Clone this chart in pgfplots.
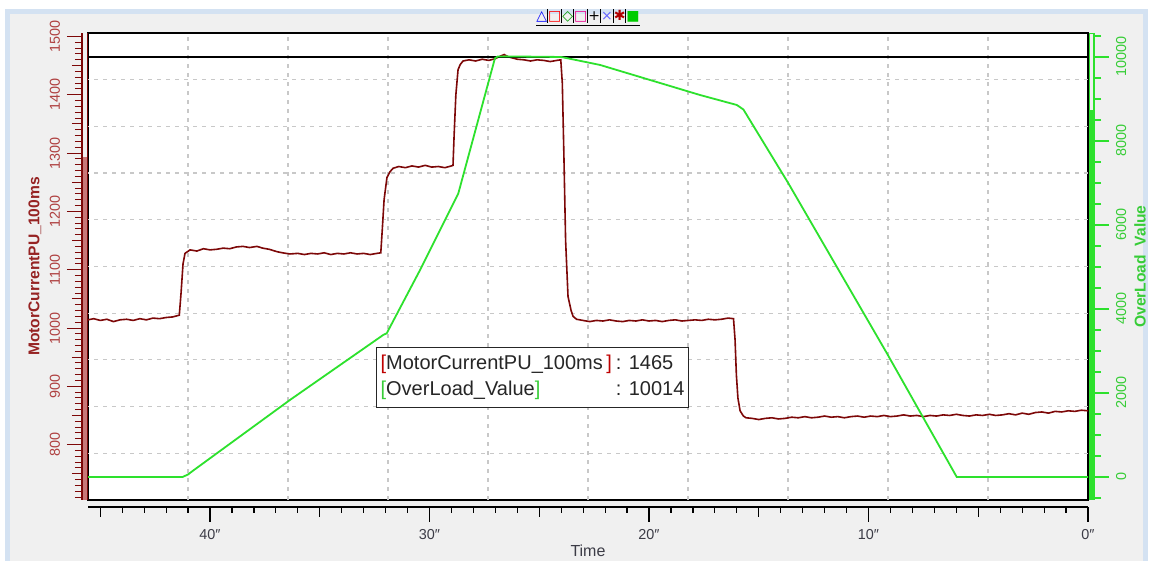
\documentclass[border=0pt]{standalone}
\usepackage{pgfplots}
\pgfplotsset{compat=1.18}
\usepackage{fontspec}
\setmainfont{Liberation Sans}
\newfontfamily\symf{DejaVu Sans}
\definecolor{curred}{RGB}{125,8,8}
\definecolor{labred}{RGB}{150,35,35}
\definecolor{tickred}{RGB}{175,65,65}
\definecolor{stripred}{RGB}{200,120,120}
\definecolor{ovgreen}{RGB}{45,225,45}
\definecolor{labgreen}{RGB}{55,205,55}
\definecolor{bggray}{RGB}{240,240,240}
\definecolor{frameblue}{RGB}{212,226,242}
\definecolor{gridgray}{RGB}{200,200,200}
\definecolor{ticktext}{RGB}{60,60,70}

\pgfplotsset{
  /pgf/number format/assume math mode=true,
  /pgf/number format/1000 sep={},
  base/.style={
    anchor=south west, width=500pt, height=233.5pt, scale only axis,
    xmin=0, xmax=45.56, x dir=reverse,
    scaled y ticks=false, scaled x ticks=false,
    tick label style={font=\fontsize{7.2}{8}\selectfont},
  },
}

\pgfplotstableread{
t v
45.56 1014
45.3 1016
45.0 1013
44.7 1015
44.4 1011
44.1 1014
43.8 1015
43.5 1013
43.2 1016
42.9 1014
42.6 1017
42.3 1016
42.0 1018
41.7 1019
41.5 1021
41.40 1022
41.32 1060
41.23 1110
41.14 1128
40.91 1134
40.6 1132
40.3 1136
40.0 1134
39.7 1135
39.4 1137
39.1 1136
38.8 1139
38.5 1140
38.2 1138
37.86 1140
37.6 1137
37.3 1135
36.96 1131
36.7 1129
36.36 1127
36.0 1128
35.7 1126
35.4 1128
35.1 1127
34.8 1129
34.5 1126
34.2 1128
33.9 1127
33.6 1129
33.3 1127
33.0 1128
32.7 1126
32.4 1128
32.22 1129
32.15 1170
32.07 1220
31.94 1258
31.8 1268
31.66 1274
31.4 1277
31.1 1275
30.8 1278
30.5 1276
30.2 1279
29.9 1276
29.6 1277
29.3 1275
29.0 1278
28.93 1279
28.88 1330
28.80 1400
28.70 1443
28.6 1452
28.47 1458
28.2 1460
27.9 1458
27.6 1461
27.3 1459
27.0 1462
26.79 1466
26.6 1469
26.4 1465
26.2 1463
26.0 1461
25.7 1460
25.4 1458
25.1 1460
24.8 1459
24.5 1457
24.2 1459
24.02 1460
23.95 1420
23.88 1300
23.80 1150
23.69 1054
23.55 1030
23.46 1020
23.3 1015
23.01 1013
22.7 1011
22.4 1013
22.1 1012
21.8 1014
21.5 1012
21.2 1011
20.9 1013
20.6 1012
20.3 1014
20.0 1012
19.7 1013
19.4 1011
19.1 1013
18.8 1014
18.5 1012
18.2 1013
17.9 1014
17.6 1013
17.3 1015
17.0 1014
16.7 1015
16.4 1017
16.15 1016
16.08 980
16.02 920
15.95 880
15.85 858
15.7 849
15.58 846
15.3 845
15.0 843
14.7 845
14.4 846
14.1 844
13.8 845
13.5 847
13.2 846
12.9 848
12.6 846
12.3 847
12.0 849
11.7 847
11.4 848
11.1 846
10.8 848
10.5 849
10.2 847
9.9 849
9.6 848
9.3 850
9.0 848
8.7 849
8.4 851
8.1 849
7.8 850
7.5 848
7.2 850
6.9 849
6.6 851
6.3 850
6.0 852
5.7 850
5.4 849
5.1 851
4.8 850
4.5 852
4.2 850
3.9 851
3.6 853
3.3 851
3.0 854
2.7 852
2.4 855
2.1 856
1.8 854
1.5 857
1.2 856
0.9 858
0.6 857
0.3 859
0.0 858
}\currenttable

\pgfplotstableread{
t v
45.56 0
41.25 0
41.0 60
40.8 140
36.36 1833
32.11 3381
31.95 3421
30.43 4929
29.67 5722
28.69 6748
27.02 9968
26.9 10010
26.5 10014
24.0 10000
22.23 9810
17.68 9095
16.00 8857
15.70 8750
13.66 7000
11.60 5143
9.17 2952
5.98 0
0 0
}\overloadtable

\begin{document}
\begin{tikzpicture}
\useasboundingbox (-44pt,-30.5pt) rectangle (531.5pt,250pt);
\fill[white] (-44pt,-30.5pt) rectangle (531.5pt,250pt);
\fill[bggray] (-41pt,-30.5pt) rectangle (529.5pt,245pt);
\draw[frameblue, line width=2.5pt] (-40pt,-30.5pt) -- (-40pt,244pt) -- (528.5pt,244pt) -- (528.5pt,-30.5pt);

% main axis: frame, grid, current
\begin{axis}[base, at={(0pt,0pt)}, ymin=705, ymax=1506,
  axis background/.style={fill=white},
  axis line style={black, line width=0.8pt},
  xtick=\empty, ytick=\empty,
  extra x ticks={4.556,9.112,13.668,18.224,22.78,27.336,31.892,36.448,41.004},
  extra x tick labels={},
  extra x tick style={grid=major, major tick length=0pt},
  extra y ticks={785.1,865.2,945.3,1025.4,1105.5,1185.6,1265.7,1345.8,1425.9},
  extra y tick labels={},
  extra y tick style={grid=major, major tick length=0pt},
  major grid style={gridgray, dash pattern=on 2pt off 2.5pt, line width=0.6pt},
]
\addplot[curred, line width=0.8pt] table[x=t, y=v] {\currenttable};
\addplot[black, line width=0.6pt] coordinates {(0,1465) (45.56,1465)};
\end{axis}

% overload data
\begin{axis}[base, at={(0pt,0pt)}, ymin=-548, ymax=10571, hide axis]
\addplot[ovgreen, line width=0.9pt] table[x=t, y=v] {\overloadtable};
\end{axis}

% left ticks axis
\begin{axis}[base, at={(-3pt,0pt)}, ymin=705, ymax=1506,
  axis y line*=left, axis x line=none,
  y axis line style={curred, line width=0.6pt, -},
  ytick={800,900,...,1500},
  minor ytick={710,720,...,1500},
  extra y ticks={750,850,950,1050,1150,1250,1350,1450},
  extra y tick labels={},
  extra y tick style={major tick length=5pt},
  tick align=outside,
  major tick length=7.5pt, minor tick length=3.5pt,
  tick style={curred, line width=0.5pt},
  yticklabel style={rotate=90, anchor=south, text=tickred},
  ylabel={\textbf{MotorCurrentPU\_100ms}},
  every axis y label/.style={at={(axis description cs:-0.047,0.5)}, rotate=90, anchor=center, font=\fontsize{7.8}{9}\selectfont, text=labred},
]
\fill[stripred] (rel axis cs:0,0) rectangle ([xshift=2.5pt]rel axis cs:0,0.734);
\draw[curred, line width=0.4pt] (rel axis cs:0,0) -- (rel axis cs:0,1);
\draw[curred, line width=0.4pt] ([xshift=2.5pt]rel axis cs:0,0) -- ([xshift=2.5pt]rel axis cs:0,1);
\end{axis}

% right ticks axis
\begin{axis}[base, at={(3pt,0pt)}, ymin=-548, ymax=10571,
  axis y line*=right, axis x line=none,
  y axis line style={ovgreen, line width=0.6pt, -},
  ytick={0,2000,...,10000},
  minor ytick={-500,0,...,10500},
  tick align=outside,
  major tick length=7.5pt, minor tick length=3.5pt,
  tick style={ovgreen, line width=0.6pt},
  yticklabel style={rotate=90, anchor=north, text=labgreen},
  ylabel={\textbf{OverLoad\ \ Value}},
  every axis y label/.style={at={(axis description cs:1.046,0.5)}, rotate=90, anchor=center, font=\fontsize{7.8}{9}\selectfont, text=labgreen},
]
\fill[ovgreen] ([xshift=-2.5pt]rel axis cs:1,0) rectangle (rel axis cs:1,0.835);
\draw[ovgreen, line width=0.4pt] ([xshift=-2.5pt]rel axis cs:1,0) rectangle (rel axis cs:1,1);
\end{axis}

% x ticks axis
\begin{axis}[base, at={(0pt,-3.5pt)}, ymin=0, ymax=1,
  axis x line*=bottom, axis y line=none,
  x axis line style={black, line width=1.2pt, -},
  xtick={0,10,20,30,40},
  xticklabels={0″,10″,20″,30″,40″},
  minor xtick={0,1,...,45},
  extra x ticks={5,15,25,35,45},
  extra x tick labels={},
  extra x tick style={major tick length=5pt},
  tick align=outside,
  major tick length=7.5pt, minor tick length=3pt,
  tick style={black, line width=0.6pt},
  xticklabel style={text=ticktext},
  xlabel={Time},
  every axis x label/.style={at={(axis description cs:0.5,0)}, yshift=-22pt, anchor=center, font=\fontsize{8}{9}\selectfont, text=ticktext},
]
\end{axis}

% cursor read-out box
\node[draw=black!85, line width=0.75pt, fill=white, inner sep=2pt, minimum width=152.5pt, minimum height=24.5pt, align=left, text=black!85, font=\fontsize{10}{13}\selectfont] at (222.25pt,61.25pt)
{\begin{tabular}{@{}l@{\hspace{2pt}}l@{}}
{\color{red!75!black}[}MotorCurrentPU\_100ms\,{\color{red!75!black}]} & : 1465\\
{\color{labgreen}[}OverLoad\_Value{\color{labgreen}]} & : 10014
\end{tabular}};

% toolbar icons
\node[font=\symf\fontsize{7}{8}\selectfont, inner sep=0pt] at (250pt,241pt)
{\underline{\textcolor{blue}{△}\rule[-1pt]{0.5pt}{7pt}\textcolor{red}{□}\rule[-1pt]{0.5pt}{7pt}\textcolor{green!60!black}{◇}\rule[-1pt]{0.5pt}{7pt}\textcolor{magenta}{□}\rule[-1pt]{0.5pt}{7pt}\textcolor{black}{+}\rule[-1pt]{0.5pt}{7pt}\textcolor{blue!60}{×}\rule[-1pt]{0.5pt}{7pt}\textcolor{red!70!black}{✱}\rule[-1pt]{0.5pt}{7pt}\textcolor{green!80!black}{■}}};
\end{tikzpicture}
\end{document}
